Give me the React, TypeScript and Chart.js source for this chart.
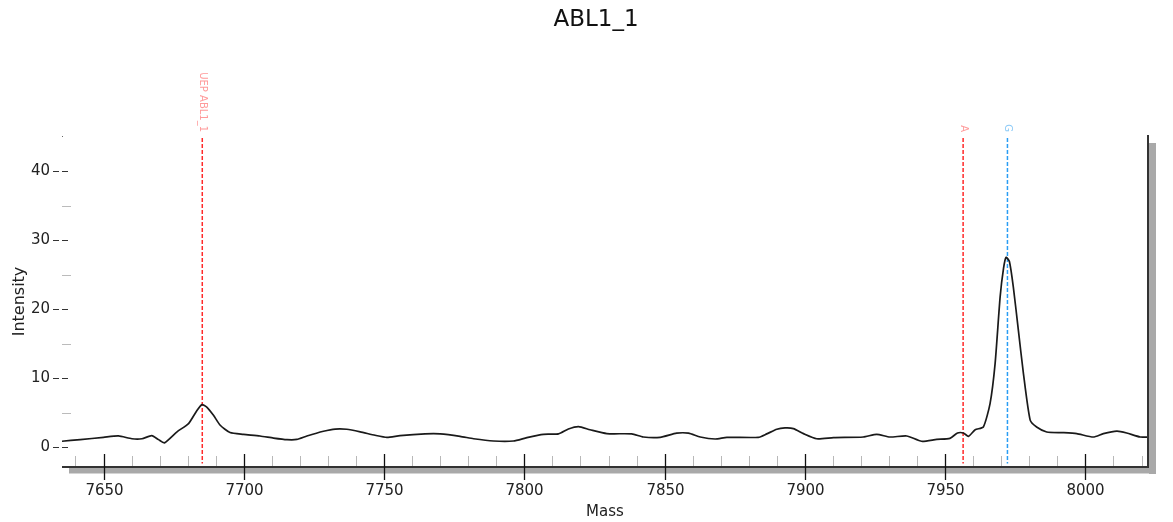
import React, { useEffect, useRef } from "react";
import { Chart, registerables } from "chart.js";

Chart.register(...registerables);

const chartTitle = "ABL1_1";
const xAxisTitle = "Mass";
const yAxisTitle = "Intensity";

const massValues = [
  7635, 7641.7, 7650, 7655.3, 7660.1, 7663.7, 7667.2, 7669.6, 7671.7, 7676.2,
  7680.3, 7683.3, 7685.1, 7686.8, 7689.2, 7691.6, 7695.1, 7699.9, 7705.8, 7710.6,
  7715.4, 7718.9, 7722.5, 7728.4, 7732.6, 7736.7, 7741.5, 7746.8, 7751, 7755.7,
  7764.6, 7770, 7777.1, 7781.9, 7789, 7796.1, 7800.9, 7806.8, 7812.2, 7815.7,
  7819.3, 7823.4, 7829.4, 7838.3, 7842.4, 7848.4, 7854.3, 7858.5, 7862.7, 7868,
  7872.2, 7883.4, 7886.4, 7890, 7892.9, 7895.9, 7899.5, 7904.2, 7910.2, 7920.8,
  7925.6, 7930.3, 7936.3, 7941.6, 7947, 7951.7, 7954.4, 7956.5, 7958.3, 7960.7,
  7963.6, 7966, 7967.8, 7969.6, 7970.8, 7971.7, 7972.9, 7974.3, 7976.1, 7977.9,
  7980.3, 7982.6, 7986.2, 7992.1, 7996.9, 8002.8, 8006.4, 8011.2, 8014.7, 8019.5,
  8022.5,
];

const intensityValues = [
  0.83, 1.07, 1.4, 1.6, 1.2, 1.2, 1.65, 1.07, 0.6, 2.2,
  3.4, 5.3, 6.15, 5.8, 4.6, 3.15, 2.1, 1.84, 1.6, 1.3,
  1.07, 1.1, 1.6, 2.28, 2.6, 2.57, 2.2, 1.7, 1.4, 1.65,
  1.9, 1.9, 1.55, 1.2, 0.87, 0.87, 1.36, 1.84, 1.9, 2.6,
  2.95, 2.5, 1.94, 1.9, 1.45, 1.4, 2.0, 2.0, 1.45, 1.16,
  1.4, 1.4, 1.9, 2.57, 2.76, 2.67, 1.94, 1.2, 1.36, 1.45,
  1.84, 1.45, 1.6, 0.83, 1.1, 1.25, 2.03, 2.03, 1.55, 2.5,
  2.9, 6.3, 12.1, 21.8, 25.9, 27.5, 26.9, 23.2, 16.9, 10.65,
  3.9, 2.9, 2.18, 2.08, 1.94, 1.45, 1.94, 2.3, 2.03, 1.45,
  1.45,
];

const markerLabels = ["UEP ABL1_1", "A", "G"];
const markerMasses = [7685.2, 7956.4, 7972.2];
const markerLineColors = ["#ff2a2a", "#ff2a2a", "#2a9df4"];
const markerTextColors = ["#ff9a9a", "#ff9a9a", "#8ccaf7"];

const xMajorTicks = [7650, 7700, 7750, 7800, 7850, 7900, 7950, 8000];
const xMinorTicks = [
  7640, 7660, 7670, 7680, 7690, 7710, 7720, 7730, 7740, 7760, 7770, 7780, 7790,
  7810, 7820, 7830, 7840, 7860, 7870, 7880, 7890, 7910, 7920, 7930, 7940, 7960,
  7970, 7980, 7990, 8010, 8020,
];
const yMajorTicks = [0, 10, 20, 30, 40];
const yMinorTicks = [5, 15, 25, 35];

const X_MIN = 7635.2;
const X_MAX = 8022.3;
const Y_MIN = -2.9;
const Y_MAX = 45.1;
const MARKER_TOP = 44.8;
const MARKER_BOTTOM = -2.4;

const FONT = "'DejaVu Sans', sans-serif";

const decorPlugin = {
  id: "decor",
  afterDatasetsDraw(chart: any) {
    const ctx = chart.ctx as CanvasRenderingContext2D;
    const { left, right, top, bottom } = chart.chartArea;
    const xs = chart.scales.x;
    const ys = chart.scales.y;
    ctx.save();

    // shadows
    ctx.fillStyle = "#a9a9a9";
    ctx.fillRect(left + 7, bottom + 0.5, right - left + 1, 6);
    ctx.fillRect(right + 1, top + 7, 7, bottom - top);

    // x minor ticks
    ctx.strokeStyle = "#b8b8b8";
    ctx.lineWidth = 1;
    for (const v of xMinorTicks) {
      const x = Math.round(xs.getPixelForValue(v)) + 0.5;
      ctx.beginPath();
      ctx.moveTo(x, bottom - 11);
      ctx.lineTo(x, bottom);
      ctx.stroke();
    }

    // axis line
    ctx.strokeStyle = "#333";
    ctx.lineWidth = 2;
    ctx.beginPath();
    ctx.moveTo(left, bottom);
    ctx.lineTo(right + 1, bottom);
    ctx.stroke();
    // right border
    ctx.beginPath();
    ctx.moveTo(right, top - 1);
    ctx.lineTo(right, bottom);
    ctx.stroke();

    // x major ticks + labels
    ctx.strokeStyle = "#111";
    ctx.lineWidth = 1.3;
    ctx.fillStyle = "#222";
    ctx.font = `15px ${FONT}`;
    ctx.textAlign = "center";
    ctx.textBaseline = "middle";
    for (const v of xMajorTicks) {
      const x = Math.round(xs.getPixelForValue(v)) + 0.5;
      ctx.beginPath();
      ctx.moveTo(x, bottom - 13);
      ctx.lineTo(x, bottom + 13);
      ctx.stroke();
      ctx.fillText(String(v), x, bottom + 24);
    }

    // y minor ticks
    ctx.strokeStyle = "#bbbbbb";
    ctx.lineWidth = 1;
    for (const v of yMinorTicks) {
      const y = Math.round(ys.getPixelForValue(v)) + 0.5;
      ctx.beginPath();
      ctx.moveTo(left, y);
      ctx.lineTo(left + 9, y);
      ctx.stroke();
    }
    // y major ticks + labels
    ctx.strokeStyle = "#333";
    ctx.textAlign = "right";
    for (const v of yMajorTicks) {
      const y = Math.round(ys.getPixelForValue(v)) + 0.5;
      ctx.setLineDash([6, 3]);
      ctx.beginPath();
      ctx.moveTo(left - 9, y);
      ctx.lineTo(left + 9, y);
      ctx.stroke();
      ctx.setLineDash([]);
      ctx.fillText(String(v), left - 12, y);
    }
    // top dot of y axis
    ctx.fillStyle = "#666";
    ctx.fillRect(left, top, 1, 1);

    // marker labels (rotated, reading top to bottom)
    ctx.font = `10px ${FONT}`;
    ctx.textAlign = "right";
    ctx.textBaseline = "middle";
    const labelEnd = ys.getPixelForValue(MARKER_TOP) - 6;
    markerLabels.forEach((lab, i) => {
      const x = xs.getPixelForValue(markerMasses[i]);
      ctx.save();
      ctx.translate(x, labelEnd);
      ctx.rotate(Math.PI / 2);
      ctx.fillStyle = markerTextColors[i];
      ctx.fillText(lab, 0, 0);
      ctx.restore();
    });

    // axis titles
    ctx.fillStyle = "#222";
    ctx.font = `15px ${FONT}`;
    ctx.textAlign = "center";
    ctx.textBaseline = "middle";
    ctx.fillText(xAxisTitle, (left + right) / 2, bottom + 45);
    ctx.save();
    ctx.translate(20, (top + bottom) / 2);
    ctx.rotate(-Math.PI / 2);
    ctx.font = `16px ${FONT}`;
    ctx.fillText(yAxisTitle, 0, 0);
    ctx.restore();

    // chart title
    ctx.fillStyle = "#111";
    ctx.font = `23px ${FONT}`;
    ctx.fillText(chartTitle, (left + right) / 2 - 9, 20);

    ctx.restore();
  },
};

export default function App() {
  const ref = useRef<HTMLCanvasElement | null>(null);
  useEffect(() => {
    if (!ref.current) return;
    const curve = massValues.map((m, i) => ({ x: m, y: intensityValues[i] }));
    const markerSets = markerMasses.map((m, i) => ({
      label: markerLabels[i],
      data: [
        { x: m, y: MARKER_TOP },
        { x: m, y: MARKER_BOTTOM },
      ],
      showLine: true,
      borderColor: markerLineColors[i],
      borderWidth: 1.5,
      borderDash: [4, 2],
      pointRadius: 0,
      fill: false,
    }));
    const chart = new Chart(ref.current, {
      type: "scatter",
      data: {
        datasets: [
          {
            label: "ABL1_1",
            data: curve,
            showLine: true,
            borderColor: "#1a1a1a",
            borderWidth: 1.7,
            pointRadius: 0,
            tension: 0.2,
            fill: false,
          },
          ...markerSets,
        ] as any,
      },
      options: {
        animation: false,
        responsive: false,
        maintainAspectRatio: false,
        layout: { padding: { left: 62, top: 136, right: 25, bottom: 55 } },
        plugins: {
          legend: { display: false },
          tooltip: { enabled: false },
          title: { display: false },
        },
        scales: {
          x: { type: "linear", min: X_MIN, max: X_MAX, display: false },
          y: { type: "linear", min: Y_MIN, max: Y_MAX, display: false },
        },
      },
      plugins: [decorPlugin],
    });
    return () => chart.destroy();
  }, []);
  return (
    <div style={{ position: "absolute", left: 0, top: 0, width: 1173, height: 522, background: "#fff" }}>
      <canvas ref={ref} width={1173} height={522} style={{ display: "block" }} />
    </div>
  );
}
